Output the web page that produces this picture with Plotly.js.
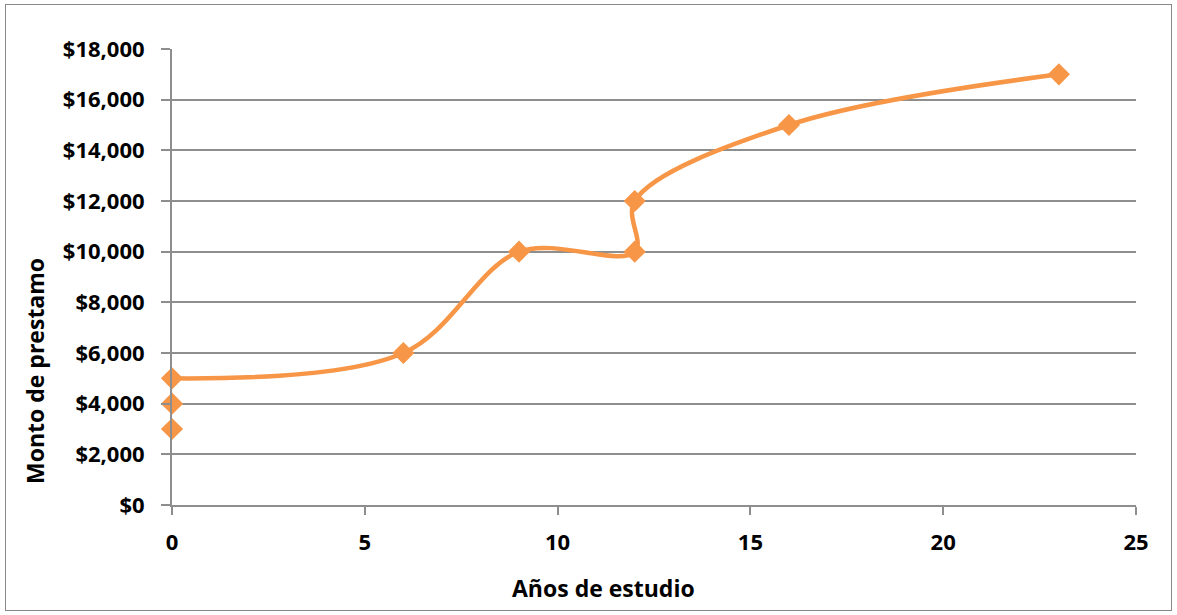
<!DOCTYPE html>
<html><head><meta charset="utf-8">
<script src="https://cdn.plot.ly/plotly-3.0.1.min.js"></script>
<style>
html,body{margin:0;padding:0;background:#fff;}
#frame{position:absolute;left:5px;top:4px;width:1167px;height:607px;border:1px solid #888;box-sizing:border-box;}
#chart{position:absolute;left:0;top:0;width:1177px;height:615px;}
</style></head>
<body>
<div id="frame"></div>
<div id="chart"></div>
<script>
// Line series (connected, smoothed)
const lineYears = [0, 6, 9, 12, 12, 16, 23];
const lineAmounts = [5000, 6000, 10000, 10000, 12000, 15000, 17000];
// Unconnected points
const extraYears = [0, 0];
const extraAmounts = [4000, 3000];
const yTickVals = [0, 2000, 4000, 6000, 8000, 10000, 12000, 14000, 16000, 18000];
const yTickText = ['$0','$2,000','$4,000','$6,000','$8,000','$10,000','$12,000','$14,000','$16,000','$18,000'];
const xTickVals = [0, 5, 10, 15, 20, 25];

const orange = '#F79646';
const font = {family: '"Open Sans", Lato, sans-serif', size: 22, color: '#000', weight: 700};
const titleFont = {family: '"Open Sans", Lato, sans-serif', size: 23, color: '#000', weight: 700};

const traces = [
  {x: extraYears, y: extraAmounts, type: 'scatter', mode: 'markers', cliponaxis: false,
   marker: {symbol: 'diamond', size: 17, color: orange}},
  {x: lineYears, y: lineAmounts, type: 'scatter', mode: 'lines+markers', cliponaxis: false,
   line: {color: orange, width: 4.5, shape: 'spline', smoothing: 1},
   marker: {symbol: 'diamond', size: 17, color: orange}}
];

const layout = {
  width: 1177, height: 615,
  margin: {l: 172, r: 41, t: 49, b: 110},
  paper_bgcolor: 'rgba(0,0,0,0)', plot_bgcolor: 'rgba(0,0,0,0)',
  showlegend: false,
  font: font,
  xaxis: {range: [0, 25], tickvals: xTickVals, showgrid: false, zeroline: false,
    showline: true, linecolor: '#8e8e8e', linewidth: 2,
    ticks: 'outside', ticklen: 8, tickcolor: '#8e8e8e', tickwidth: 2,
    ticklabelstandoff: 9, tickfont: font},
  yaxis: {range: [0, 18000], tickvals: yTickVals, ticktext: yTickText,
    showgrid: true, gridcolor: '#8e8e8e', gridwidth: 2, zeroline: false,
    showline: true, linecolor: '#8e8e8e', linewidth: 2,
    ticks: 'outside', ticklen: 9, tickcolor: '#8e8e8e', tickwidth: 2,
    ticklabelstandoff: 12, tickfont: font},
  annotations: [
    {text: 'Años de estudio', xref: 'paper', yref: 'paper', x: (603-172)/964, y: -(588-505)/456,
     xanchor: 'center', yanchor: 'middle', showarrow: false, font: titleFont},
    {text: 'Monto de prestamo', xref: 'paper', yref: 'paper', x: -(172-35)/964, y: (505-371)/456,
     xanchor: 'center', yanchor: 'middle', showarrow: false, textangle: -90, font: titleFont}
  ]
};
Plotly.newPlot('chart', traces, layout, {displayModeBar: false, staticPlot: true});
</script>
</body></html>
